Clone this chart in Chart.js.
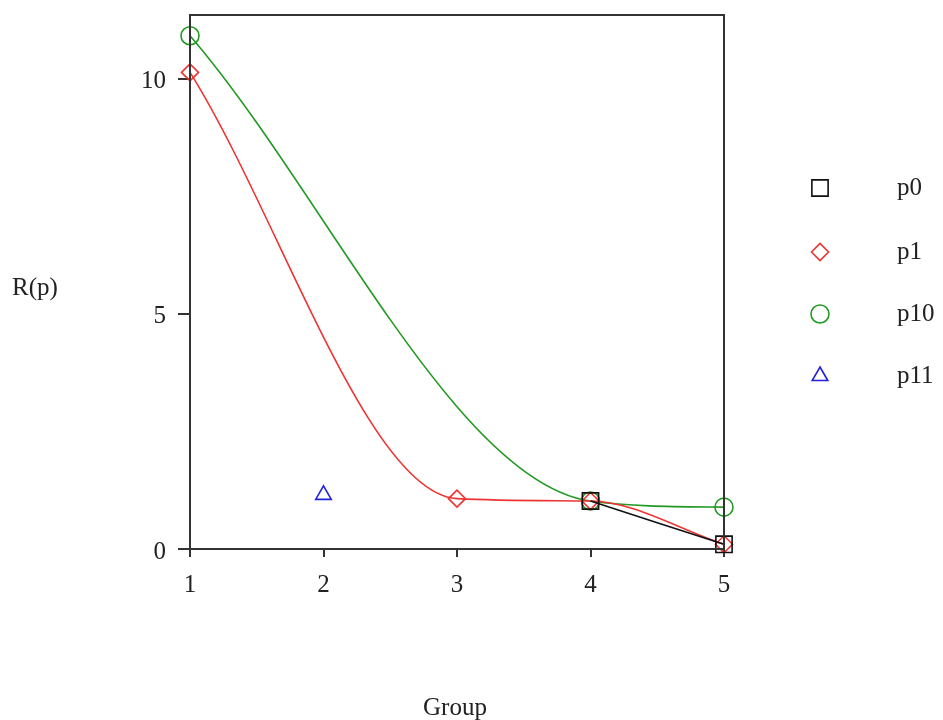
<!DOCTYPE html>
<html>
<head>
<meta charset="utf-8">
<script src="https://cdn.jsdelivr.net/npm/chart.js@4/dist/chart.umd.min.js"></script>
<style>
html,body{margin:0;padding:0;background:#fff;}
#wrap{width:943px;height:720px;position:relative;}
</style>
</head>
<body>
<div id="wrap"><canvas id="c" width="943" height="720"></canvas></div>
<script>
// ---- data ----
const GROUPS = [1, 2, 3, 4, 5];
const SERIES_NAMES = ['p0', 'p1', 'p10', 'p11'];
const P0  = [null, null, null, 1.02, 0.10];
const P1  = [10.13, null, 1.07, 1.02, 0.10];
const P10 = [10.91, null, null, 1.02, 0.89];
const P11 = [null, 1.15, null, null, null];
const X_TICKS = [1, 2, 3, 4, 5];
const Y_TICKS = [0, 5, 10];
const X_TITLE = 'Group';
const Y_TITLE = 'R(p)';

const SERIF = '"Liberation Serif", "DejaVu Serif", serif';
const FONT_SIZE = 25;
const AXIS_COLOR = '#333';

function pts(vals) {
  const out = [];
  GROUPS.forEach((g, i) => { if (vals[i] !== null) out.push({x: g, y: vals[i]}); });
  return out;
}

const styles = [
  {color: '#111', style: 'rect', r: 11.5, line: true},
  {color: '#ee3333', style: 'rectRot', r: 8.5, line: true},
  {color: '#229922', style: 'circle', r: 9, line: true},
  {color: '#2222dd', style: 'triangle', r: 9, line: false}
];
const values = [P0, P1, P10, P11];

const datasets = values.map((v, i) => ({
  label: SERIES_NAMES[i],
  data: pts(v),
  borderColor: styles[i].color,
  backgroundColor: 'rgba(255,255,255,0)',
  pointBorderColor: styles[i].color,
  pointBackgroundColor: 'rgba(255,255,255,0)',
  pointStyle: styles[i].style,
  pointRadius: styles[i].r,
  pointBorderWidth: 1.6,
  borderWidth: 1.6,
  showLine: styles[i].line,
  cubicInterpolationMode: 'monotone',
  spanGaps: true,
  clip: false
}));

const LEGEND_Y = [188, 252, 314, 376];

const decorations = {
  id: 'decorations',
  afterDraw(chart) {
    const ctx = chart.ctx;
    const a = chart.chartArea;
    ctx.save();
    // frame
    ctx.strokeStyle = AXIS_COLOR;
    ctx.lineWidth = 2;
    ctx.strokeRect(a.left, a.top, a.right - a.left, a.bottom - a.top);
    // axis titles
    ctx.fillStyle = '#222';
    ctx.font = FONT_SIZE + 'px ' + SERIF;
    ctx.textBaseline = 'middle';
    ctx.textAlign = 'left';
    ctx.fillText(Y_TITLE, 12, 288);
    ctx.textAlign = 'center';
    ctx.fillText(X_TITLE, 455, 708);
    // legend text
    ctx.textAlign = 'left';
    SERIES_NAMES.forEach((name, i) => ctx.fillText(name, 897, LEGEND_Y[i]));
    // legend markers
    SERIES_NAMES.forEach((name, i) => {
      const s = styles[i];
      ctx.strokeStyle = s.color;
      ctx.fillStyle = 'rgba(255,255,255,0)';
      ctx.lineWidth = 1.6;
      Chart.helpers.drawPoint(ctx, {pointStyle: s.style, radius: s.r, borderWidth: 1.6, rotation: 0}, 820, LEGEND_Y[i]);
    });
    ctx.restore();
  }
};

new Chart(document.getElementById('c'), {
  type: 'line',
  data: {datasets},
  options: {
    responsive: false,
    animation: false,
    layout: {padding: {left: 0, right: 219, top: 15, bottom: 0}},
    plugins: {legend: {display: false}, tooltip: {enabled: false}},
    scales: {
      x: {
        type: 'linear', min: 1, max: 5,
        afterFit(s) { s.height = 171; s.paddingLeft = 0; s.paddingRight = 0; s.paddingTop = 0; s.paddingBottom = 0; },
        afterBuildTicks(s) { s.ticks = X_TICKS.map(v => ({value: v})); },
        grid: {display: true, drawOnChartArea: false, drawTicks: true, tickLength: 8, color: AXIS_COLOR, lineWidth: 2},
        border: {display: true, color: AXIS_COLOR, width: 2},
        ticks: {color: '#222', font: {family: SERIF, size: FONT_SIZE}, padding: 13, maxRotation: 0}
      },
      y: {
        type: 'linear', min: 0, max: 11.35,
        afterFit(s) { s.width = 190; s.paddingLeft = 0; s.paddingRight = 0; s.paddingTop = 0; s.paddingBottom = 0; },
        afterBuildTicks(s) { s.ticks = Y_TICKS.map(v => ({value: v})); },
        grid: {display: true, drawOnChartArea: false, drawTicks: true, tickLength: 12, color: AXIS_COLOR, lineWidth: 2},
        border: {display: true, color: AXIS_COLOR, width: 2},
        ticks: {color: '#222', font: {family: SERIF, size: FONT_SIZE}, padding: 12, labelOffset: 3}
      }
    }
  },
  plugins: [decorations]
});
</script>
</body>
</html>
